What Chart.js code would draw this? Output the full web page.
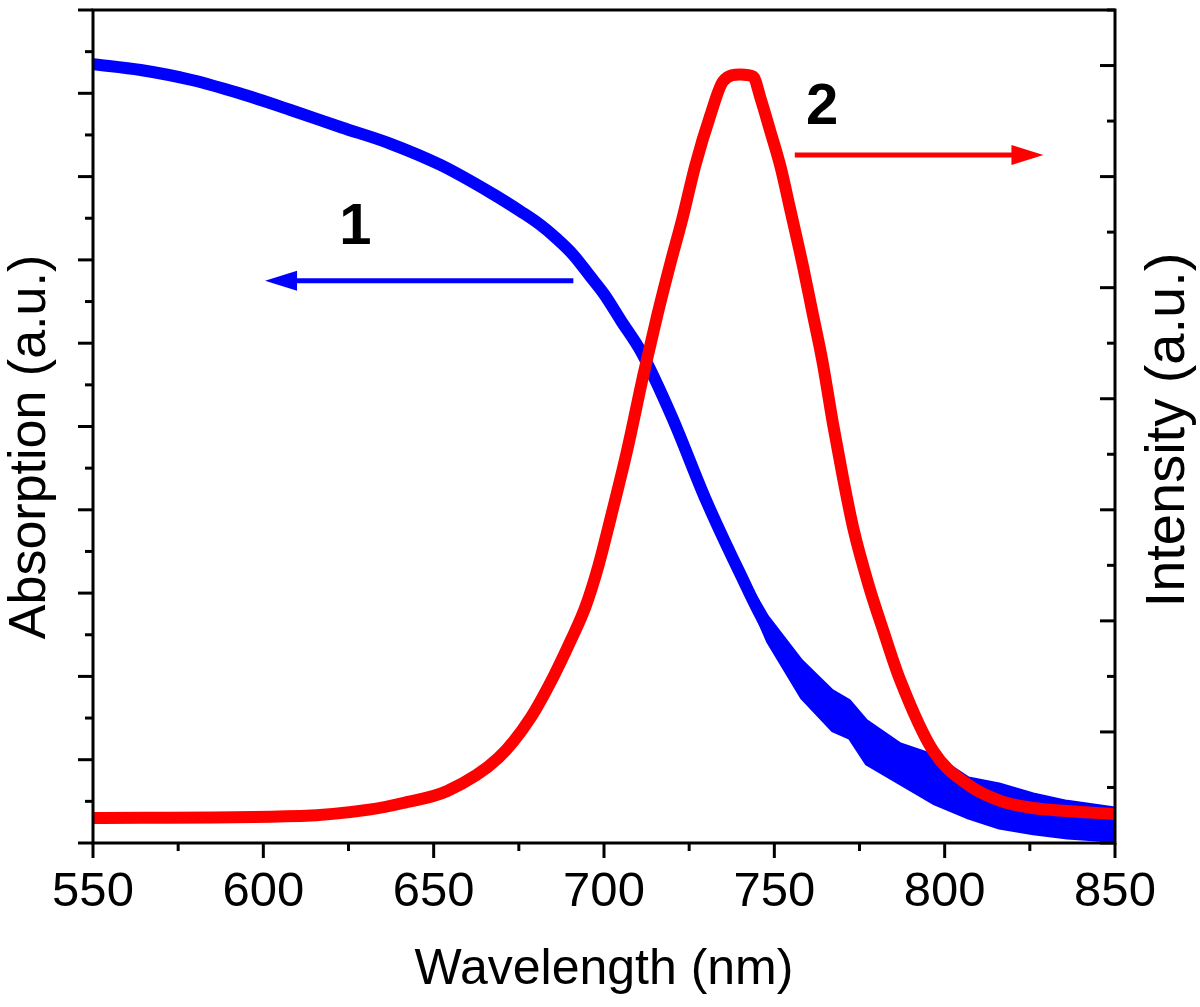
<!DOCTYPE html>
<html>
<head>
<meta charset="utf-8">
<script src="https://cdn.jsdelivr.net/npm/chart.js@4.4.0/dist/chart.umd.min.js"></script>
<style>
  html, body { margin: 0; padding: 0; background: #fff; }
</style>
</head>
<body>
<canvas id="chart" width="1200" height="1007"></canvas>
<script>
// absorption (curve 1, left axis)
const absWavelength = [550, 564, 579, 593, 608, 623, 637, 652, 667, 676, 681, 686, 691, 696, 700, 705, 711, 720, 730, 740, 748, 758, 767, 777, 787, 797, 807, 816, 826, 836, 850];
const absValue = [9.35, 9.28, 9.16, 9.00, 8.80, 8.59, 8.40, 8.14, 7.80, 7.57, 7.43, 7.26, 7.06, 6.80, 6.59, 6.27, 5.89, 5.11, 4.11, 3.23, 2.58, 2.05, 1.60, 1.17, 0.92, 0.70, 0.50, 0.40, 0.33, 0.26, 0.20];

// spread of the noisy absorption tail (upper / lower edge)
const absNoiseWavelength = [740, 748, 758, 767, 772, 777, 787, 797, 807, 816, 826, 836, 850];
const absNoiseHigh = [3.28, 2.72, 2.19, 1.83, 1.71, 1.47, 1.19, 1.05, 0.78, 0.71, 0.59, 0.50, 0.42];
const absNoiseLow = [3.18, 2.42, 1.74, 1.35, 1.26, 0.95, 0.71, 0.47, 0.30, 0.18, 0.11, 0.06, 0.02];

// emission intensity (curve 2, right axis)
const emWavelength = [550, 611, 631, 641, 654, 669, 678.4, 685.2, 690.2, 694.6, 698.4, 701.9, 706.9, 711.6, 715.7, 719.5, 723.0, 726.8, 731.2, 735.0, 740.0, 743.8, 745.9, 748.8, 751.8, 754.7, 758.5, 761.1, 764.1, 767.3, 770.2, 773.2, 777.6, 782.0, 786.9, 796.6, 806.6, 816.3, 826, 836, 850];
const emValue = [0.225, 0.243, 0.30, 0.36, 0.468, 0.766, 1.126, 1.50, 1.82, 2.13, 2.50, 2.92, 3.55, 4.22, 4.76, 5.22, 5.62, 6.10, 6.55, 6.86, 6.92, 6.90, 6.71, 6.41, 6.09, 5.70, 5.18, 4.79, 4.34, 3.76, 3.28, 2.83, 2.33, 1.91, 1.47, 0.83, 0.53, 0.38, 0.315, 0.288, 0.26];

// axes
const xMin = 550, xMax = 850, xStep = 50;
const absMax = 10, emMax = 7.5;

const FONT = "'Liberation Sans', Arial, sans-serif";
const BLUE = '#0000ff', RED = '#ff0000';

const frame = {
    id: 'frame',
    afterDatasetsDraw(chart) {
        const { ctx, chartArea: a, scales } = chart;
        const line = (x1, y1, x2, y2) => { ctx.beginPath(); ctx.moveTo(x1, y1); ctx.lineTo(x2, y2); ctx.stroke(); };
        ctx.save();
        ctx.strokeStyle = '#000';
        ctx.lineWidth = 3;
        ctx.strokeRect(a.left, a.top, a.right - a.left, a.bottom - a.top);

        // bottom ticks, outward
        for (let v = xMin; v <= xMax; v += xStep / 2) {
            const px = scales.x.getPixelForValue(v);
            line(px, a.bottom, px, a.bottom + (v % xStep === 0 ? 15 : 8));
        }
        // left ticks, outward
        for (let v = 0; v <= absMax; v += 0.5) {
            const py = scales.y.getPixelForValue(v);
            line(a.left, py, a.left - (v % 1 === 0 ? 15 : 8), py);
        }
        // right ticks, inward
        for (let v = 0; v <= emMax; v += 0.5) {
            const py = scales.y2.getPixelForValue(v);
            line(a.right, py, a.right - (v % 1 === 0 ? 15 : 8), py);
        }

        // titles
        ctx.fillStyle = '#000';
        ctx.textAlign = 'center';
        ctx.textBaseline = 'middle';
        ctx.font = '50px ' + FONT;
        ctx.fillText('Wavelength (nm)', (a.left + a.right) / 2, 970);
        ctx.save();
        ctx.translate(31, 447);
        ctx.rotate(-Math.PI / 2);
        ctx.font = '52px ' + FONT;
        ctx.fillText('Absorption (a.u.)', 0, 0);
        ctx.restore();
        ctx.save();
        ctx.translate(1169, 430);
        ctx.rotate(-Math.PI / 2);
        ctx.font = '56px ' + FONT;
        ctx.fillText('Intensity (a.u.)', 0, 0);
        ctx.restore();

        // curve labels and arrows
        const X = v => scales.x.getPixelForValue(v);
        const Y = v => scales.y.getPixelForValue(v);
        const arrow = (x0, x1, yv, color) => {
            const y = Y(yv), p0 = X(x0), p1 = X(x1);
            const dir = Math.sign(p1 - p0);
            ctx.strokeStyle = color;
            ctx.fillStyle = color;
            ctx.lineWidth = 5;
            line(p0, y, p1 - dir * 20, y);
            ctx.beginPath();
            ctx.moveTo(p1, y);
            ctx.lineTo(p1 - dir * 32, y - 10);
            ctx.lineTo(p1 - dir * 32, y + 10);
            ctx.closePath();
            ctx.fill();
        };
        arrow(691, 600.5, 6.75, BLUE);
        arrow(756, 829, 8.26, RED);

        ctx.fillStyle = '#000';
        ctx.font = 'bold 58px ' + FONT;
        ctx.fillText('1', X(627), Y(7.38));
        ctx.fillText('2', X(764), Y(8.82));
        ctx.restore();
    }
};

const pts = (xs, ys) => xs.map((x, i) => ({ x: x, y: ys[i] }));

new Chart(document.getElementById('chart'), {
    type: 'line',
    data: {
        datasets: [{
            label: '2',
            data: pts(emWavelength, emValue),
            yAxisID: 'y2',
            borderColor: RED,
            borderWidth: 12,
            borderJoinStyle: 'round',
            pointRadius: 0,
            cubicInterpolationMode: 'monotone',
            clip: 0,
            order: 0
        }, {
            label: '1',
            data: pts(absWavelength, absValue),
            yAxisID: 'y',
            borderColor: BLUE,
            borderWidth: 12,
            borderJoinStyle: 'round',
            pointRadius: 0,
            cubicInterpolationMode: 'monotone',
            clip: 0,
            order: 1
        }, {
            label: '1 high',
            data: pts(absNoiseWavelength, absNoiseHigh),
            yAxisID: 'y',
            borderColor: BLUE,
            borderWidth: 3,
            borderJoinStyle: 'round',
            pointRadius: 0,
            fill: false,
            clip: 0,
            order: 2
        }, {
            label: '1 low',
            data: pts(absNoiseWavelength, absNoiseLow),
            yAxisID: 'y',
            borderColor: BLUE,
            backgroundColor: BLUE,
            borderWidth: 3,
            borderJoinStyle: 'round',
            pointRadius: 0,
            fill: '-1',
            clip: 0,
            order: 2
        }]
    },
    options: {
        responsive: false,
        animation: false,
        layout: { padding: { top: 10, left: 0, right: 0, bottom: 0 } },
        plugins: {
            legend: { display: false },
            tooltip: { enabled: false }
        },
        scales: {
            x: {
                type: 'linear',
                min: xMin,
                max: xMax,
                grid: { display: false },
                border: { display: false },
                ticks: {
                    stepSize: xStep,
                    color: '#000',
                    padding: 12,
                    maxRotation: 0,
                    font: { family: FONT, size: 49 }
                },
                afterFit: s => { s.height = 164; }
            },
            y: {
                position: 'left',
                min: 0,
                max: absMax,
                grid: { display: false },
                border: { display: false },
                ticks: { display: false },
                afterFit: s => { s.width = 93; }
            },
            y2: {
                position: 'right',
                min: 0,
                max: emMax,
                grid: { display: false },
                border: { display: false },
                ticks: { display: false },
                afterFit: s => { s.width = 85; }
            }
        }
    },
    plugins: [frame]
});
</script>
</body>
</html>
